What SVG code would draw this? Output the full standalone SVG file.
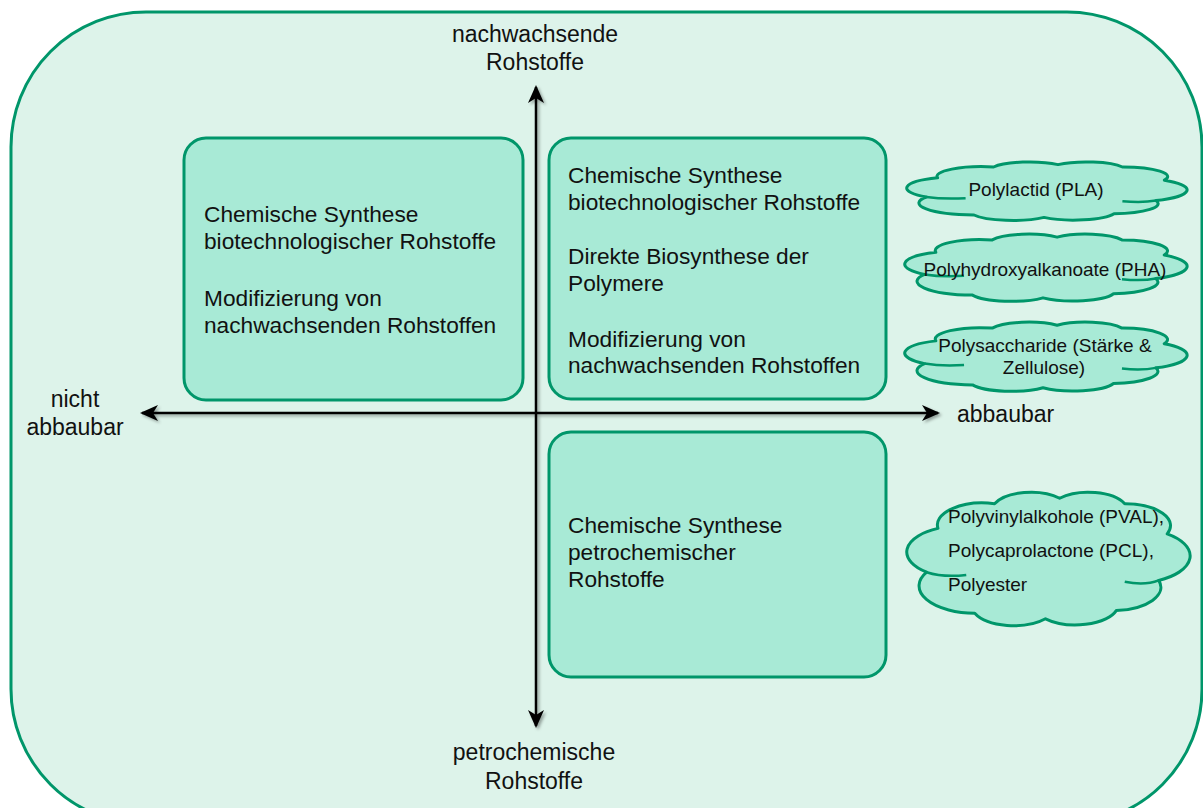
<svg xmlns="http://www.w3.org/2000/svg" xmlns:xlink="http://www.w3.org/1999/xlink" width="1203" height="808" viewBox="0 0 1203 808">
<style>
.bg{fill:#ddf3ea;stroke:#00966a;stroke-width:3}
.box{fill:#a8ead6;stroke:#00966a;stroke-width:3}
.cloud{fill:#a8ead6;stroke:#00966a;stroke-width:3;vector-effect:non-scaling-stroke;stroke-linejoin:round}
.curl{fill:none;stroke:#00966a;stroke-width:2.5;vector-effect:non-scaling-stroke}
.t{font-family:"Liberation Sans",Arial,sans-serif;font-size:22.7px;fill:#111}
.ax{font-family:"Liberation Sans",Arial,sans-serif;font-size:23px;fill:#111}
.ct{font-family:"Liberation Sans",Arial,sans-serif;font-size:19px;fill:#111}
.axis{stroke:#000;stroke-width:2.5;fill:none}
</style>
<defs>
<marker id="ah" viewBox="0 0 18 16" refX="16" refY="8" markerWidth="18" markerHeight="16" markerUnits="userSpaceOnUse" orient="auto-start-reverse">
<path d="M0,0 L18,8 L0,16 L5,8 Z" fill="#000"/>
</marker>
<filter id="sh" x="-10%" y="-10%" width="120%" height="120%">
<feDropShadow dx="2" dy="2" stdDeviation="1.5" flood-color="#000" flood-opacity="0.35"/>
</filter>
<path id="cloudShape" class="cloud" d="M 8 60 A 19 19 0 0 1 12 28 A 16 16 0 0 1 32 10 A 14 14 0 0 1 55 6 A 14 14 0 0 1 78 10 A 16 16 0 0 1 93 32 A 20 20 0 0 1 90 66 A 17 17 0 0 1 75 88 A 15 15 0 0 1 50 94 A 15 15 0 0 1 25 90 A 20 20 0 0 1 8 60 Z"/>
<path id="cloudCurls" class="curl" d="M 8 60 Q 14 64 22 62 M 90 66 Q 85 70 78 67"/>
</defs>

<rect id="frame" class="bg" x="11" y="12" width="1191" height="812" rx="135" ry="135"/>

<g id="box-top-left">
<rect class="box" x="184" y="138" width="339" height="262" rx="22" ry="22"/>
<text class="t" x="204" y="222">Chemische Synthese</text>
<text class="t" x="204" y="249">biotechnologischer Rohstoffe</text>
<text class="t" x="204" y="306">Modifizierung von</text>
<text class="t" x="204" y="333">nachwachsenden Rohstoffen</text>
</g>

<g id="box-top-right">
<rect class="box" x="549" y="138" width="337" height="261" rx="22" ry="22"/>
<text class="t" x="568" y="183">Chemische Synthese</text>
<text class="t" x="568" y="210">biotechnologischer Rohstoffe</text>
<text class="t" x="568" y="264">Direkte Biosynthese der</text>
<text class="t" x="568" y="291">Polymere</text>
<text class="t" x="568" y="347">Modifizierung von</text>
<text class="t" x="568" y="373">nachwachsenden Rohstoffen</text>
</g>

<g id="box-bottom-right">
<rect class="box" x="549" y="432" width="337" height="245" rx="22" ry="22"/>
<text class="t" x="568" y="533">Chemische Synthese</text>
<text class="t" x="568" y="560">petrochemischer</text>
<text class="t" x="568" y="587">Rohstoffe</text>
</g>

<g id="connectors" filter="url(#sh)">
<line class="axis" x1="536" y1="726" x2="536" y2="87" marker-start="url(#ah)" marker-end="url(#ah)"/>
<line class="axis" x1="142" y1="413" x2="938" y2="413" marker-start="url(#ah)" marker-end="url(#ah)"/>
</g>

<g id="label-top">
<text class="ax" x="535" y="42" text-anchor="middle">nachwachsende</text>
<text class="ax" x="535" y="70" text-anchor="middle">Rohstoffe</text>
</g>
<g id="label-bottom">
<text class="ax" x="534" y="760" text-anchor="middle">petrochemische</text>
<text class="ax" x="534" y="789" text-anchor="middle">Rohstoffe</text>
</g>
<g id="label-left">
<text class="ax" x="75" y="407" text-anchor="middle">nicht</text>
<text class="ax" x="75" y="435" text-anchor="middle">abbaubar</text>
</g>
<g id="label-right">
<text class="ax" x="957" y="422">abbaubar</text>
</g>

<g id="cloud-pla">
<g transform="translate(904,161) scale(2.8,0.6)"><use xlink:href="#cloudShape"/><use xlink:href="#cloudCurls"/></g>
<text class="ct" x="1036" y="196" text-anchor="middle">Polylactid (PLA)</text>
</g>
<g id="cloud-pha">
<g transform="translate(902,233) scale(2.82,0.69)"><use xlink:href="#cloudShape"/><use xlink:href="#cloudCurls"/></g>
<text class="ct" x="1045" y="276" text-anchor="middle">Polyhydroxyalkanoate (PHA)</text>
</g>
<g id="cloud-polysaccharide">
<g transform="translate(902,321) scale(2.82,0.71)"><use xlink:href="#cloudShape"/><use xlink:href="#cloudCurls"/></g>
<text class="ct" x="1045" y="352" text-anchor="middle">Polysaccharide (Stärke &amp;</text>
<text class="ct" x="1044" y="374" text-anchor="middle">Zellulose)</text>
</g>
<g id="cloud-petro">
<g transform="translate(904,490) scale(2.83,1.37)"><use xlink:href="#cloudShape"/><use xlink:href="#cloudCurls"/></g>
<text class="ct" x="948" y="523">Polyvinylalkohole (PVAL),</text>
<text class="ct" x="948" y="557">Polycaprolactone (PCL),</text>
<text class="ct" x="948" y="591">Polyester</text>
</g>
</svg>
